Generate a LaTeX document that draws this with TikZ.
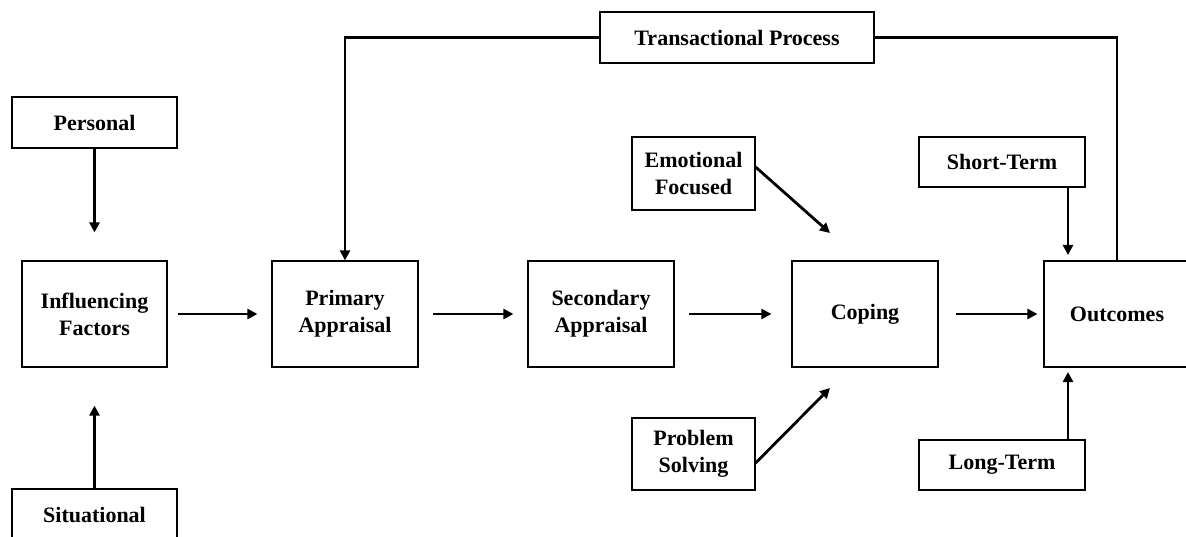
\documentclass[tikz,border=0pt]{standalone}
\usepackage{fontspec}
\setmainfont{Liberation Serif}
\usetikzlibrary{arrows.meta}
\begin{document}
\begin{tikzpicture}[x=1pt,y=-1pt,
  box/.style={draw, line width=1.2pt, font=\bfseries\fontsize{22}{27}\selectfont, align=center, inner sep=0pt},
  big/.style={box, minimum width=146pt, minimum height=106pt},
  arr/.style={line width=2.8pt, -{Triangle[length=10pt,width=10pt]}},
  ln/.style={line width=2.8pt}]
\useasboundingbox (0,0) rectangle (1186,537);
% nodes
\node[box, minimum width=165pt, minimum height=51pt] (pers) at (94.5,122.5) {Personal};
\node[big, minimum width=145pt] (infl) at (94.5,314) {Influencing\\Factors};
\node[box, minimum width=165pt, minimum height=51pt] (sit) at (94.5,514.5) {Situational};
\node[big] (prim) at (345,314) {Primary\\Appraisal};
\node[big] (sec) at (601,314) {Secondary\\Appraisal};
\node[big] (cop) at (865,314) {Coping};
\node[big] (out) at (1117,314) {Outcomes};
\node[box, minimum width=123pt, minimum height=73pt] (emo) at (693.5,173.5) {Emotional\\Focused};
\node[box, minimum width=123pt, minimum height=72pt] (prob) at (693.5,454) {Problem\\Solving};
\node[box, minimum width=166pt, minimum height=50pt] (short) at (1002,162) {Short-Term};
\node[box, minimum width=166pt, minimum height=50pt] (long) at (1002,465) {Long-Term};
\node[box, minimum width=274pt, minimum height=51pt] (trans) at (737,37.5) {Transactional Process};
% arrow end coordinates
\coordinate (copE) at (830,233);
\coordinate (copP) at (830,388);
\coordinate (outS) at (1068,255);
\coordinate (outL) at (1068,372);
% connectors
\draw[arr, shorten >=28pt] (pers) -- (infl);
\draw[arr, shorten >=38pt] (sit) -- (infl);
\draw[arr, shorten <=10pt, shorten >=14pt] (infl) -- (prim);
\draw[arr, shorten <=14pt, shorten >=14pt] (prim) -- (sec);
\draw[arr, shorten <=14pt, shorten >=20pt] (sec) -- (cop);
\draw[arr, shorten <=17pt, shorten >=6pt] (cop) -- (out);
\draw[arr] ([yshift=6.5pt]emo.east) -- (copE);
\draw[arr] ([yshift=-9pt]prob.east) -- (copP);
\draw[arr] (short.south -| outS) -- (outS);
\draw[arr] (long.north -| outL) -- (outL);
\draw[ln] (out.north) |- (trans.east);
\draw[arr] (trans.west) -| (prim.north);
\end{tikzpicture}
\end{document}
